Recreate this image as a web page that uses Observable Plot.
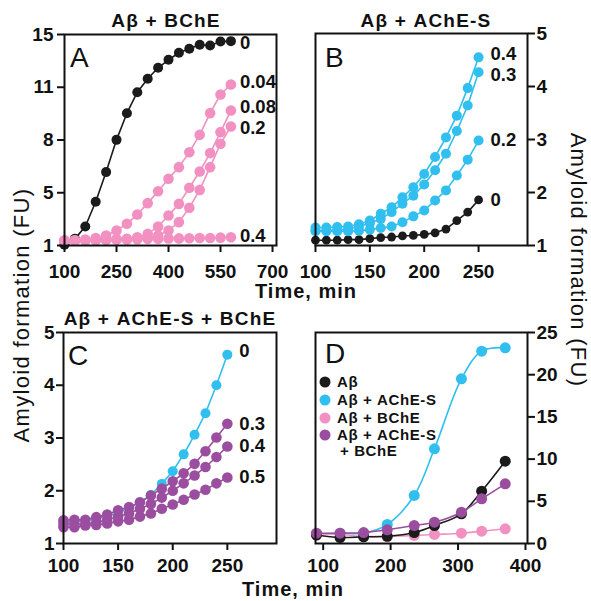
<!DOCTYPE html>
<html><head><meta charset="utf-8">
<script src="https://cdn.jsdelivr.net/npm/d3@7"></script>
<script src="https://cdn.jsdelivr.net/npm/@observablehq/plot@0.6"></script>
<style>
body{margin:0;background:#fff;}
#wrap{position:relative;width:591px;height:601px;overflow:hidden;background:#fff;}
#wrap svg{position:absolute;overflow:visible;}
</style></head><body><div id="wrap"></div>
<script>
// ---------- colours ----------
const cBlack = "#1b1b1b", cPink = "#f291c1", cBlue = "#30bfee", cPurple = "#9b4ea0";

// ---------- Panel A: Aβ + BChE ----------
const timeA = [100,130,160,190,220,250,280,310,340,370,400,430,460,490,520,550,580];
const a_0    = [1.05,1.44,2.26,3.90,5.87,8.01,9.78,11.17,12.06,12.79,13.32,13.79,14.05,14.32,14.27,14.54,14.56];
const a_004  = [1.33,1.35,1.40,1.50,1.66,2.00,2.44,3.06,3.81,4.60,5.43,6.20,7.19,8.34,9.78,11.02,11.68];
const a_008  = [1.33,1.33,1.35,1.37,1.40,1.42,1.44,1.55,1.77,2.26,2.99,3.76,4.83,5.91,7.13,8.52,9.96];
const a_02   = [1.33,1.33,1.33,1.35,1.37,1.40,1.42,1.45,1.50,1.66,2.00,2.55,3.50,4.69,6.20,7.75,8.90];
const a_04   = [1.33,1.33,1.35,1.37,1.38,1.40,1.40,1.42,1.44,1.45,1.46,1.47,1.48,1.50,1.50,1.52,1.55];
const xTicksA = [100,250,400,550,700];
const yTicksA = [1,4.5,8,11.5,15];
const yTickLabelsA = ["1","5","8","11","15"];

// ---------- Panel B: Aβ + AChE-S ----------
const timeB = [100,110,120,130,140,150,160,170,180,190,200,210,220,230,240,250];
const b_0   = [1.10,1.10,1.10,1.11,1.11,1.13,1.15,1.16,1.18,1.19,1.21,1.24,1.31,1.47,1.63,1.86];
const b_02  = [1.27,1.27,1.27,1.27,1.28,1.30,1.33,1.36,1.44,1.55,1.66,1.85,2.04,2.32,2.62,2.98];
const b_03  = [1.28,1.28,1.29,1.31,1.36,1.42,1.50,1.63,1.79,1.94,2.15,2.42,2.73,3.16,3.64,4.27];
const b_04  = [1.34,1.34,1.35,1.36,1.40,1.47,1.60,1.72,1.91,2.10,2.35,2.67,3.04,3.45,3.97,4.55];
const xTicksB = [100,150,200,250];
const yTicksB = [1,2,3,4,5];

// ---------- Panel C: Aβ + AChE-S + BChE ----------
const timeC = [100,110,120,130,140,150,160,170,180,190,200,210,220,230,240,250];
const c_0   = [1.40,1.42,1.43,1.47,1.52,1.58,1.67,1.78,1.92,2.13,2.37,2.69,3.06,3.47,4.00,4.58];
const c_03  = [1.44,1.45,1.45,1.50,1.55,1.63,1.69,1.78,1.91,2.04,2.18,2.33,2.51,2.75,3.01,3.27];
const c_04  = [1.37,1.37,1.37,1.40,1.45,1.51,1.57,1.66,1.75,1.87,2.00,2.14,2.29,2.45,2.64,2.84];
const c_05  = [1.31,1.31,1.34,1.35,1.38,1.42,1.45,1.51,1.57,1.66,1.74,1.83,1.93,2.02,2.14,2.25];
const xTicksC = [100,150,200,250];
const yTicksC = [1,2,3,4,5];

// ---------- Panel D: comparison ----------
const timeD = [90,125,160,195,235,265,305,335,370];
const d_ab    = [1.00,0.70,0.80,0.85,1.30,2.13,3.52,6.20,9.75];
const d_ache  = [1.15,1.22,1.22,2.25,5.69,11.22,19.51,22.79,23.19];
const d_bche  = [1.15,1.07,0.83,0.83,0.95,1.07,1.22,1.46,1.74];
const d_both  = [1.22,1.22,1.30,1.62,2.13,2.52,3.71,5.29,7.07];
const xTicksD = [100,200,300,400];
const yTicksD = [0,5,10,15,20,25];
const legendLabels = ["Aβ","Aβ + AChE-S","Aβ + BChE","Aβ + AChE-S","+ BChE"];

// ---------- texts ----------
const titles = ["Aβ + BChE","Aβ + AChE-S","Aβ + AChE-S + BChE"];
const panelLetters = ["A","B","C","D"];
const xTitle = "Time, min";
const yTitle = "Amyloid formation (FU)";

const FONT = "'Liberation Sans', Arial, Helvetica, sans-serif";

function toRows(times, values, label) {
  return times.map((t, i) => ({t, v: values[i], label}));
}

function makePanel(cfg) {
  const marks = [];
  for (const s of cfg.series) {
    const data = toRows(cfg.times, s.values, s.label);
    marks.push(Plot.line(data, {x: "t", y: "v", stroke: s.color, strokeWidth: 1.6, curve: cfg.curve}));
    marks.push(Plot.dot(data, {x: "t", y: "v", fill: s.color, r: s.r}));
  }
  if (cfg.endLabels) {
    for (const s of cfg.series) {
      const last = [{t: cfg.times[cfg.times.length - 1], v: s.values[s.values.length - 1], label: s.label}];
      marks.push(Plot.text(last, {x: "t", y: "v", text: "label", dx: cfg.labelDx, dy: s.ldy || 0, textAnchor: "start", fontWeight: "bold", fontSize: 18.5, fill: "#111"}));
    }
  }
  marks.push(Plot.frame({stroke: "#111", strokeWidth: 2}));
  const xl = new Map(cfg.xTicks.map((d, i) => [d, cfg.xTickLabels ? cfg.xTickLabels[i] : String(d)]));
  const yl = new Map(cfg.yTicks.map((d, i) => [d, cfg.yTickLabels ? cfg.yTickLabels[i] : String(d)]));
  marks.push(Plot.axisX({ticks: cfg.xTicks, tickFormat: d => xl.get(d), tickSize: 7, tickPadding: cfg.xPad, strokeWidth: 2, stroke: "#111", label: null, fontSize: 19, fontWeight: "bold", fill: "#111"}));
  marks.push(Plot.axisY({anchor: cfg.yAnchor, ticks: cfg.yTicks, tickFormat: d => yl.get(d), tickSize: 7, tickPadding: cfg.yPad, strokeWidth: 2, stroke: "#111", label: null, fontSize: 19, fontWeight: "bold", fill: "#111"}));
  const svg = Plot.plot({
    width: cfg.width, height: cfg.height,
    marginLeft: cfg.m[0], marginRight: cfg.m[1], marginTop: cfg.m[2], marginBottom: cfg.m[3],
    x: {domain: cfg.xDomain, label: null},
    y: {domain: cfg.yDomain, label: null},
    style: {fontFamily: FONT, fontSize: "19px", fontWeight: "bold", background: "transparent", overflow: "visible", color: "#111"},
    marks
  });
  svg.style.left = cfg.left + "px";
  svg.style.top = cfg.top + "px";
  return svg;
}

const wrap = document.getElementById("wrap");

wrap.appendChild(makePanel({
  left: 0, top: 0, width: 300, height: 290, m: [64, 24, 34, 45],
  xDomain: [100, 711.5], yDomain: [1, 15],
  xTicks: xTicksA, yTicks: yTicksA, yTickLabels: yTickLabelsA,
  yAnchor: "left", xPad: 12, yPad: 4, curve: "linear",
  times: timeA, endLabels: true, labelDx: 9,
  series: [
    {label: "0", values: a_0, color: cBlack, r: 5, ldy: 2},
    {label: "0.4", values: a_04, color: cPink, r: 5.3, ldy: -1},
    {label: "0.2", values: a_02, color: cPink, r: 5.3, ldy: 1.5},
    {label: "0.08", values: a_008, color: cPink, r: 5.3, ldy: -3.5},
    {label: "0.04", values: a_004, color: cPink, r: 5.3, ldy: -2}
  ]
}));

wrap.appendChild(makePanel({
  left: 300, top: 0, width: 291, height: 290, m: [15, 64, 33, 45],
  xDomain: [100, 295], yDomain: [1, 5],
  xTicks: xTicksB, yTicks: yTicksB,
  yAnchor: "right", xPad: 12, yPad: 2, curve: "linear",
  times: timeB, endLabels: true, labelDx: 12,
  series: [
    {label: "0", values: b_0, color: cBlack, r: 4.4},
    {label: "0.2", values: b_02, color: cBlue, r: 5},
    {label: "0.3", values: b_03, color: cBlue, r: 5, ldy: 3},
    {label: "0.4", values: b_04, color: cBlue, r: 5, ldy: -3}
  ]
}));

wrap.appendChild(makePanel({
  left: 0, top: 290, width: 300, height: 311, m: [63, 24, 42, 58],
  xDomain: [100, 295], yDomain: [1, 5],
  xTicks: xTicksC, yTicks: yTicksC,
  yAnchor: "left", xPad: 8, yPad: 2, curve: "linear",
  times: timeC, endLabels: true, labelDx: 12,
  series: [
    {label: "0", values: c_0, color: cBlue, r: 5, ldy: -4},
    {label: "0.5", values: c_05, color: cPurple, r: 5.3},
    {label: "0.4", values: c_04, color: cPurple, r: 5.3},
    {label: "0.3", values: c_03, color: cPurple, r: 5.3}
  ]
}));

wrap.appendChild(makePanel({
  left: 300, top: 290, width: 291, height: 311, m: [15, 64, 42, 58],
  xDomain: [88.6, 403], yDomain: [0, 25],
  xTicks: xTicksD, yTicks: yTicksD,
  yAnchor: "right", xPad: 8, yPad: 2, curve: "catmull-rom",
  times: timeD, endLabels: false,
  series: [
    {label: legendLabels[1], values: d_ache, color: cBlue, r: 5.5},
    {label: legendLabels[2], values: d_bche, color: cPink, r: 5.5},
    {label: legendLabels[0], values: d_ab, color: cBlack, r: 5.5},
    {label: legendLabels[3], values: d_both, color: cPurple, r: 5.5}
  ]
}));

// ---------- overlay texts & legend ----------
const ov = d3.create("svg").attr("width", 591).attr("height", 601)
  .style("left", "0px").style("top", "0px").style("pointer-events", "none")
  .attr("font-family", FONT).attr("fill", "#111");

function txt(s, x, y, o = {}) {
  const t = ov.append("text").attr("x", x).attr("y", y).text(s)
    .attr("text-anchor", o.anchor || "middle")
    .attr("font-size", o.size || 19)
    .attr("font-weight", o.weight || "bold")
    .style("letter-spacing", (o.ls || 0) + "px");
  if (o.transform) t.attr("transform", o.transform).attr("x", 0).attr("y", 0);
  return t;
}
txt(titles[0], 166, 27, {ls: 1.2});
txt(titles[1], 426, 27, {ls: 1.2});
txt(titles[2], 170, 325, {ls: 1.2});
txt(xTitle, 306, 298, {size: 20, ls: 1});
txt(xTitle, 293, 596, {size: 20, ls: 1});
txt(yTitle, 0, 0, {size: 22, weight: "normal", ls: 1.3, transform: "translate(29,315) rotate(-90)"});
txt(yTitle, 0, 0, {size: 22, weight: "normal", ls: 1.3, transform: "translate(571,260) rotate(90)"});
txt(panelLetters[0], 70, 67, {size: 28, weight: "normal", anchor: "start"});
txt(panelLetters[1], 325, 67, {size: 28, weight: "normal", anchor: "start"});
txt(panelLetters[2], 68, 365, {size: 28, weight: "normal", anchor: "start"});
txt(panelLetters[3], 325, 363, {size: 28, weight: "normal", anchor: "start"});

const legendColors = [cBlack, cBlue, cPink, cPurple];
const legendRows = [382, 400, 418, 435];
legendColors.forEach((c, i) => {
  ov.append("circle").attr("cx", 325).attr("cy", legendRows[i]).attr("r", 5.5).attr("fill", c);
  txt(legendLabels[i], 337, legendRows[i] + 5.3, {size: 15, anchor: "start", ls: 0.6});
});
txt(legendLabels[4], 340, 456, {size: 15, anchor: "start", ls: 0.6});

wrap.appendChild(ov.node());
</script></body></html>
